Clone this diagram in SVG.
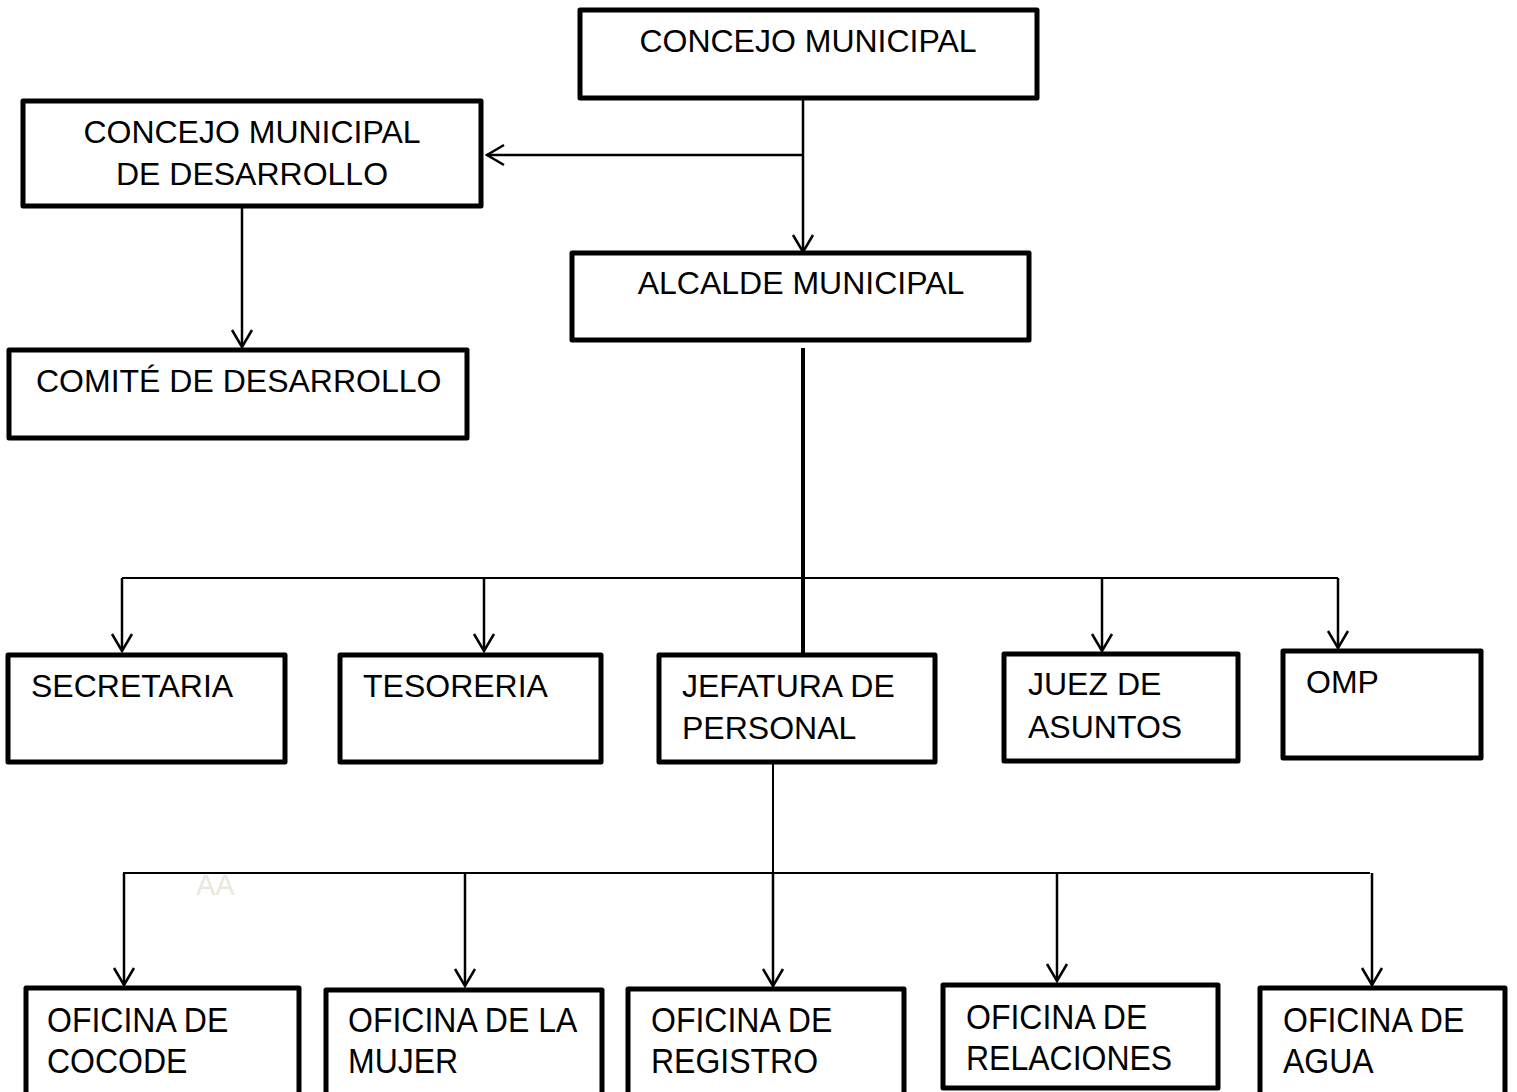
<svg xmlns="http://www.w3.org/2000/svg" width="1517" height="1092" viewBox="0 0 1517 1092">
<style>
.box{fill:#fff;stroke:#000;stroke-width:5;stroke-linejoin:round}
.t{font-family:"Liberation Sans",Arial,sans-serif;font-size:32px;fill:#000}
.c{stroke:#000;stroke-width:2;fill:none}
.ca{stroke:#000;stroke-width:2.5;fill:none;marker-end:url(#v)}
</style>
<defs>
<marker id="v" viewBox="-20 -12 22 24" markerWidth="22" markerHeight="24" refX="0" refY="0" orient="auto" markerUnits="userSpaceOnUse">
<path d="M-17,-10 L0,0 L-17,10" fill="none" stroke="#000" stroke-width="2.5"/>
</marker>
</defs>
<rect width="1517" height="1092" fill="#fff"/>
<g id="connectors">
<path class="ca" d="M803,98 V252"/>
<path class="ca" d="M803,155 H487"/>
<path class="ca" d="M242,207 V347"/>
<path d="M803,348 V655" stroke="#000" stroke-width="4"/>
<path class="c" d="M122,578 H1338"/>
<path class="ca" d="M122,578 V651"/>
<path class="ca" d="M484,578 V651"/>
<path class="ca" d="M1102,578 V651"/>
<path class="ca" d="M1338,578 V648"/>
<path class="c" d="M773,762 V873"/>
<path class="c" d="M123,873 H1370"/>
<path class="ca" d="M124,873 V985"/>
<path class="ca" d="M465,873 V986"/>
<path class="ca" d="M773,873 V986"/>
<path class="ca" d="M1057,873 V981"/>
<path class="ca" d="M1372,873 V985"/>
</g>
<text x="196" y="895" font-family="Liberation Sans, Arial, sans-serif" font-size="29" fill="#E9E7DC">AA</text>
<g id="concejo">
<rect class="box" x="580" y="10" width="457" height="88"/>
<text class="t" x="808" y="52" text-anchor="middle">CONCEJO MUNICIPAL</text>
</g>
<g id="cdd">
<rect class="box" x="23" y="101" width="458" height="105"/>
<text class="t" x="252" y="143" text-anchor="middle">CONCEJO MUNICIPAL</text>
<text class="t" x="252" y="185" text-anchor="middle">DE DESARROLLO</text>
</g>
<g id="alcalde">
<rect class="box" x="572" y="253" width="457" height="87"/>
<text class="t" x="801" y="294" text-anchor="middle">ALCALDE MUNICIPAL</text>
</g>
<g id="comite">
<rect class="box" x="9" y="350" width="458" height="88"/>
<text class="t" x="36" y="392">COMITÉ DE DESARROLLO</text>
</g>
<g id="secretaria">
<rect class="box" x="8" y="655" width="277" height="107"/>
<text class="t" x="31" y="697">SECRETARIA</text>
</g>
<g id="tesoreria">
<rect class="box" x="340" y="655" width="261" height="107"/>
<text class="t" x="363" y="697">TESORERIA</text>
</g>
<g id="jefatura">
<rect class="box" x="659" y="655" width="276" height="107"/>
<text class="t" x="682" y="697">JEFATURA DE</text>
<text class="t" x="682" y="739">PERSONAL</text>
</g>
<g id="juez">
<rect class="box" x="1004" y="654" width="234" height="107"/>
<text class="t" x="1028" y="695">JUEZ DE</text>
<text class="t" x="1028" y="738">ASUNTOS</text>
</g>
<g id="omp">
<rect class="box" x="1283" y="651" width="198" height="107"/>
<text class="t" x="1306" y="693">OMP</text>
</g>
<g id="cocode">
<rect class="box" x="26" y="988" width="273" height="120"/>
<text class="t" transform="translate(47 1032) scale(1 1.1)">OFICINA DE</text>
<text class="t" transform="translate(47 1073) scale(1 1.1)">COCODE</text>
</g>
<g id="mujer">
<rect class="box" x="326" y="990" width="276" height="120"/>
<text class="t" transform="translate(348 1032) scale(1 1.1)">OFICINA DE LA</text>
<text class="t" transform="translate(348 1073) scale(1 1.1)">MUJER</text>
</g>
<g id="registro">
<rect class="box" x="628" y="989" width="276" height="120"/>
<text class="t" transform="translate(651 1032) scale(1 1.1)">OFICINA DE</text>
<text class="t" transform="translate(651 1073) scale(1 1.1)">REGISTRO</text>
</g>
<g id="relaciones">
<rect class="box" x="943" y="985" width="275" height="103"/>
<text class="t" transform="translate(966 1029) scale(1 1.1)">OFICINA DE</text>
<text class="t" transform="translate(966 1070) scale(1 1.1)">RELACIONES</text>
</g>
<g id="agua">
<rect class="box" x="1260" y="988" width="245" height="120"/>
<text class="t" transform="translate(1283 1032) scale(1 1.1)">OFICINA DE</text>
<text class="t" transform="translate(1283 1073) scale(1 1.1)">AGUA</text>
</g>
</svg>
